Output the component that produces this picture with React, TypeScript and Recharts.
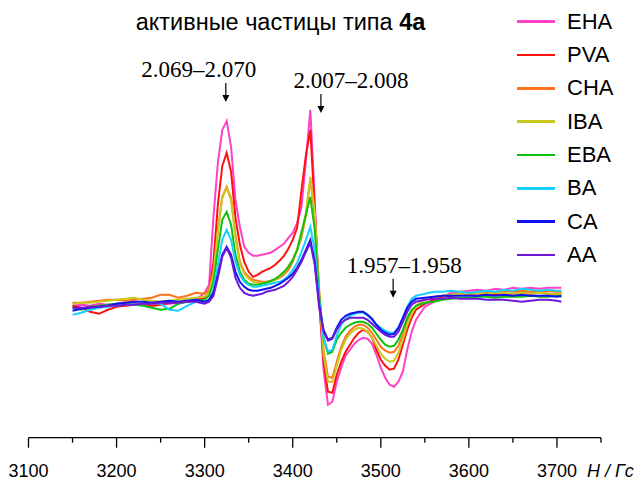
import { LineChart, Line, XAxis, YAxis, ReferenceDot } from 'recharts'

// magnetic field, G
const fieldG = [
  3150, 3160, 3170, 3180, 3190, 3200, 3210, 3220, 3230, 3240, 3250, 3260, 3270, 3280, 3290,
  3300, 3305, 3310, 3315, 3320, 3325, 3330, 3335, 3340, 3345, 3350, 3355, 3360, 3365, 3370, 3375,
  3380, 3385, 3390, 3395, 3400, 3405, 3410, 3415, 3420, 3425, 3430, 3435, 3440, 3445, 3450, 3455,
  3460, 3465, 3470, 3475, 3480, 3485, 3490, 3495, 3500, 3505, 3510, 3515, 3520, 3525, 3530, 3535, 3540,
  3550, 3560, 3570, 3580, 3590, 3600, 3610, 3620, 3630, 3640, 3650, 3660, 3670, 3680, 3690, 3700, 3705,
]

// EPR signal, arbitrary units
const EHA = [
  -1, 0, -1, 1, 0, 1, 2, 2, 0, -1, 0, 1, 2, 3, 5,
  12, 20, 88, 142, 175, 184, 158, 105, 78, 58, 52, 49, 49, 50, 51, 52, 55, 58, 61, 67, 72, 82, 98, 145, 195,
  105, 5, -65, -100, -97, -77, -63, -51, -45, -39, -35, -33, -34, -39, -50, -63, -73, -80, -82, -77, -67, -45, -27, -15,
  -2, 3, 8, 12, 13, 14, 15, 14, 16, 15, 17, 16, 17, 16, 17, 17, 17,
]
const PVA = [
  -1, -3, -7, -9, -5, -2, -1, 0, 1, -1, 0, 2, 2, 3, 5,
  7, 13, 43, 100, 139, 152, 133, 87, 60, 43, 33, 28, 30, 33, 35, 37, 40, 44, 49, 56, 65, 77, 115, 150, 175,
  95, 5, -57, -87, -88, -70, -57, -47, -40, -33, -28, -25, -27, -33, -45, -55, -61, -65, -64, -55, -40, -25, -13, -5,
  1, 5, 8, 9, 10, 10, 9, 10, 11, 10, 11, 12, 11, 12, 11, 11, 11,
]
const CHA = [
  2, 2, 3, 4, 5, 5, 4, 5, 6, 7, 10, 10, 7, 9, 12,
  11, 15, 33, 75, 108, 118, 107, 70, 43, 33, 28, 25, 24, 23, 23, 24, 25, 27, 30, 35, 43, 55, 67, 90, 125,
  90, 15, -45, -72, -73, -57, -42, -32, -26, -22, -20, -20, -23, -28, -35, -42, -46, -48, -47, -41, -30, -17, -7, -1,
  5, 7, 9, 10, 11, 12, 13, 12, 13, 14, 13, 14, 13, 13, 14, 13, 13,
]
const IBA = [
  1, 2, 2, 3, 4, 5, 6, 7, 5, 4, 3, 4, 5, 6, 7,
  8, 12, 30, 73, 107, 117, 105, 67, 41, 31, 26, 23, 22, 22, 22, 23, 25, 28, 32, 38, 45, 55, 69, 93, 128,
  93, 13, -50, -77, -77, -61, -45, -35, -29, -25, -23, -24, -27, -33, -41, -49, -54, -57, -56, -48, -35, -20, -9, -2,
  5, 8, 9, 10, 11, 11, 12, 11, 12, 12, 11, 12, 11, 12, 11, 11, 11,
]
const EBA = [
  -3, -5, -2, -1, 0, 1, 1, 0, -1, -3, -5, -4, 1, 3, 4,
  5, 9, 23, 55, 85, 93, 80, 50, 33, 25, 21, 20, 20, 21, 22, 24, 26, 29, 33, 38, 45, 55, 73, 90, 108,
  75, 10, -33, -49, -47, -35, -28, -23, -20, -18, -17, -17, -19, -23, -29, -35, -40, -42, -41, -35, -25, -13, -5, -1,
  2, 3, 5, 6, 7, 7, 8, 8, 7, 8, 8, 8, 9, 8, 8, 9, 8,
]
const BA = [
  -10, -8, -5, -3, -2, -1, 0, 0, 1, 2, 1, -5, -6, -1, 3,
  2, 5, 15, 40, 65, 75, 65, 43, 30, 23, 20, 18, 18, 19, 20, 21, 22, 23, 25, 29, 35, 42, 53, 65, 78,
  55, 5, -33, -47, -45, -31, -20, -14, -11, -9, -8, -8, -11, -15, -20, -23, -26, -28, -28, -23, -13, -2, 6, 9,
  11, 13, 13, 14, 13, 12, 13, 14, 13, 15, 14, 16, 15, 14, 15, 14, 14,
]
const CA = [
  -6, -4, -3, -2, -1, 1, 2, 3, 3, 2, 3, 4, 3, 4, 5,
  3, 5, 12, 30, 50, 58, 50, 33, 23, 18, 15, 14, 14, 15, 16, 17, 19, 21, 24, 27, 31, 37, 45, 55, 65,
  43, 0, -25, -35, -33, -23, -15, -11, -9, -8, -7, -7, -10, -14, -20, -25, -28, -30, -29, -23, -13, -3, 3, 6,
  7, 8, 9, 9, 9, 9, 9, 10, 9, 10, 9, 10, 9, 9, 9, 8, 9,
]
const AA = [
  -3, -3, -2, -2, -1, -1, 0, 0, 1, 1, 2, 2, 2, 3, 3,
  1, 3, 9, 27, 48, 57, 47, 27, 17, 12, 10, 9, 10, 11, 13, 14, 15, 17, 19, 23, 28, 35, 43, 53, 62,
  40, -2, -27, -36, -34, -25, -18, -15, -13, -13, -13, -13, -15, -19, -23, -27, -30, -32, -32, -27, -17, -7, 0, 3,
  5, 6, 6, 7, 6, 6, 6, 5, 5, 5, 4, 3, 4, 5, 5, 4, 3,
]

const seriesNames = ['EHA', 'PVA', 'CHA', 'IBA', 'EBA', 'BA', 'CA', 'AA']
const seriesValues = [EHA, PVA, CHA, IBA, EBA, BA, CA, AA]
const seriesColors = ['#ff40c8', '#ff1010', '#ff7418', '#c8c81e', '#10c010', '#18d0ff', '#1010f0', '#7018d8']

const axisTicks = [3100, 3150, 3200, 3250, 3300, 3350, 3400, 3450, 3500, 3550, 3600, 3650, 3700, 3750]

// g-factor marks: label, field position, signal level at arrow tip
const gLabels = ['2.069–2.070', '2.007–2.008', '1.957–1.958']
const gField = [3324, 3432, 3514]
const gLevel = [203, 192, 7]
const gTextShift = [-27, 30, 11]

const data = fieldG.map((g, i) => {
  const row: Record<string, number> = { g }
  seriesNames.forEach((name, k) => {
    row[name] = seriesValues[k][i]
  })
  return row
})

const FieldTick = (props: any) => {
  const { x, y, payload } = props
  const major = payload.value % 100 === 0
  return (
    <g>
      <line x1={x} x2={x} y1={y} y2={y + (major ? 10 : 5)} stroke="#000" strokeWidth={1.3} />
      {major && payload.value <= 3700 && (
        <text x={x} y={y + 39.5} textAnchor="middle" fontFamily="Liberation Sans, Arial" fontSize={18} fill="#000">
          {payload.value}
        </text>
      )}
    </g>
  )
}

const UnitLabel = (props: any) => {
  const vb = props.viewBox || {}
  return (
    <text x={vb.x + vb.width - 14} y={vb.y + 39.5} fontFamily="Liberation Sans, Arial" fontSize={18} fontStyle="italic" fill="#000">
      H / Гс
    </text>
  )
}

const GMark = (k: number) => (props: any) => {
  const { cx, cy } = props
  return (
    <g>
      <line x1={cx} x2={cx} y1={cy - 19} y2={cy - 5} stroke="#000" strokeWidth={1.2} />
      <path d={`M${cx - 3.5},${cy - 7} L${cx + 3.5},${cy - 7} L${cx},${cy} Z`} fill="#000" />
      <text x={cx + gTextShift[k]} y={cy - 32} textAnchor="middle" dominantBaseline="central"
        fontFamily="Liberation Serif, Times New Roman" fontSize={23} fill="#000">
        {gLabels[k]}
      </text>
    </g>
  )
}

const LegendBox = () => (
  <div style={{
    position: 'absolute', left: 517, top: 5, width: 120,
    fontFamily: 'Liberation Sans, Arial', fontSize: 22, color: '#000',
  }}>
    {seriesNames.map((name, k) => (
      <div key={name} style={{ height: 33.33, display: 'flex', alignItems: 'center' }}>
        <span style={{ display: 'inline-block', width: 38, height: 2.5, background: seriesColors[k], marginRight: 12 }} />
        {name}
      </div>
    ))}
  </div>
)

export default function App() {
  return (
    <div style={{ position: 'absolute', left: 0, top: 0, width: 642, height: 481, background: '#fff' }}>
      <LineChart width={642} height={481} data={data} margin={{ top: 30, right: 41, bottom: 0, left: 28.5 }}>
        <XAxis
          dataKey="g"
          type="number"
          domain={[3100, 3750]}
          ticks={axisTicks}
          interval={0}
          tick={<FieldTick />}
          tickLine={false}
          tickSize={0}
          tickMargin={0}
          axisLine={{ stroke: '#000', strokeWidth: 1.3 }}
          height={43.3}
          allowDataOverflow
          label={<UnitLabel />}
        />
        <YAxis hide domain={[-133, 275]} allowDataOverflow />
        {seriesNames.map((name, k) => (
          <Line
            key={name}
            dataKey={name}
            type="linear"
            stroke={seriesColors[k]}
            strokeWidth={2}
            dot={false}
            activeDot={false}
            isAnimationActive={false}
          />
        ))}
        {gLabels.map((label, k) => (
          <ReferenceDot key={label} x={gField[k]} y={gLevel[k]} r={0} ifOverflow="visible" shape={GMark(k)} />
        ))}
      </LineChart>
      <div style={{
        position: 'absolute', left: 0, top: 8, width: 561, textAlign: 'center',
        fontFamily: 'Liberation Sans, Arial', fontSize: 23.5, lineHeight: '28px', color: '#000',
      }}>
        активные частицы типа <b>4a</b>
      </div>
      <LegendBox />
    </div>
  )
}
